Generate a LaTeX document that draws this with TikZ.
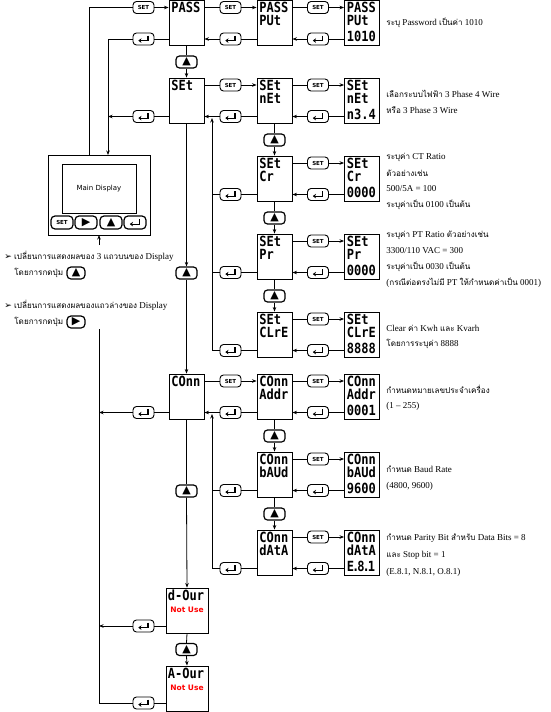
\documentclass[tikz,border=0pt]{standalone}
\usepackage{fontspec}
\setmainfont{Liberation Serif}
\newfontfamily\thaifont[Script=Thai,Scale=0.9]{Loma}
\newfontfamily\segfont[FakeStretch=0.86]{DejaVu Sans Mono}
\newfontfamily\symfont{DejaVu Sans}
\newfontfamily\uisans{DejaVu Sans}
\newcommand\tha[1]{{\thaifont #1}}
\usetikzlibrary{arrows.meta}
\newcommand\rowlink[4]{%
  \draw (#1.east |- #3) -- (#3.west);
  \draw[->] (#3.east) -- (#2.west |- #3);
  \draw (#2.west |- #4) -- (#4.east);
  \draw[->] (#4.west) -- (#1.east |- #4);}
\newcommand\subrow[4]{%
  \node[disp] (#1a) at (274.5,#2+22.5) {};
  \node[dtxt] (#1at) at ([shift={(2.5,2)}]#1a.north west) {#3};
  \node[disp] (#1b) at (362,#2+22.5) {};
  \node[dtxt] (#1bt) at ([shift={(2.5,2)}]#1b.north west) {#4};
  \node[setb] (#1s) at (318,#2+7) {SET};
  \node[entb] (#1e) at (318,#2+38.5) {};
  \rowlink{#1a}{#1b}{#1s}{#1e}}
\begin{document}
\begin{tikzpicture}[x=1pt,y=-1pt,line width=0.8pt,
  >={Stealth[length=4.5pt,width=3.5pt]},
  disp/.style={draw,line width=0.9pt,minimum width=35pt,minimum height=45pt,inner sep=0pt,fill=white},
  dwide/.style={disp,minimum width=42pt},
  dtxt/.style={anchor=north west,inner sep=0pt,align=left,font=\segfont\bfseries\fontsize{14}{13}\selectfont},
  btn/.style={draw,line width=0.9pt,rounded corners=3.5pt,minimum width=21pt,minimum height=12pt,inner sep=0pt,fill=white},
  setb/.style={btn,font=\uisans\bfseries\fontsize{5.5}{6}\selectfont},
  enticon/.style={path picture={\draw[sharp corners,line width=1.2pt,-{Stealth[length=3.2pt,width=4.6pt]}]
      ([shift={(4.5,-3.5)}]path picture bounding box.center) |- ([shift={(-5.2,1.6)}]path picture bounding box.center);}},
  entb/.style={btn,enticon},
  upb/.style={btn,line width=1.2pt,font=\symfont\fontsize{11}{11}\selectfont},
  mdb/.style={btn,line width=1.2pt,rounded corners=4pt,minimum width=22pt,minimum height=13pt},
  note/.style={anchor=west,inner sep=0pt,font=\fontsize{9}{10}\selectfont},
  nouse/.style={text=red,font=\uisans\bfseries\fontsize{7.5}{8}\selectfont,inner sep=0pt}]
\useasboundingbox (0,0) rectangle (550,712);

% ---------- main display ----------
\node[draw,line width=0.9pt,minimum width=102pt,minimum height=80pt,inner sep=0pt] (md) at (99,195) {};
\node[draw,line width=0.9pt,minimum width=74pt,minimum height=49pt,inner sep=0pt,font=\uisans\fontsize{7}{8}\selectfont] (mdscr) at (99,188.5) {Main Display};
\node[mdb,font=\uisans\bfseries\fontsize{5.5}{6}\selectfont] (mdb1) at (62,222.5) {SET};
\node[mdb,font=\symfont\fontsize{11}{11}\selectfont] (mdb2) at (86,222.5) {▶};
\node[mdb,font=\symfont\fontsize{11}{11}\selectfont] (mdb3) at (111,222.5) {▲};
\node[mdb,enticon] (mdb4) at (135,222.5) {};

% ---------- legend ----------
\node[note] (lg1) at (4,256) {{\symfont ➢} \tha{เปลี่ยนการแสดงผลของ} 3 \tha{แถวบนของ} Display};
\node[note] (lg2) at (14,273) {\tha{โดยการกดปุ่ม}};
\node[mdb,minimum width=18pt,minimum height=12pt,font=\symfont\fontsize{11}{11}\selectfont] (lgb1) at (76,273) {▲};
\node[note] (lg3) at (4,305) {{\symfont ➢} \tha{เปลี่ยนการแสดงผลของแถวล่างของ} Display};
\node[note] (lg4) at (14,322) {\tha{โดยการกดปุ่ม}};
\node[mdb,minimum width=18pt,minimum height=12pt,font=\symfont\fontsize{11}{11}\selectfont] (lgb2) at (76,322) {▶};

% ---------- column 1 ----------
\node[disp] (pass) at (186.5,23) {};
\node[dtxt] (passt) at ([shift={(2.5,2)}]pass.north west) {PASS};
\node[disp] (set) at (186.5,100.5) {};
\node[dtxt] (sett) at ([shift={(2.5,2)}]set.north west) {SEt};
\node[disp] (conn) at (186.5,396.5) {};
\node[dtxt] (connt) at ([shift={(2.5,2)}]conn.north west) {COnn};
\node[dwide] (dour) at (187,610.5) {};
\node[dtxt] (dourt) at ([shift={(2,2)}]dour.north west) {d-Our};
\node[nouse] (dnu) at (187,610) {Not Use};
\node[dwide] (aour) at (187,688.5) {};
\node[dtxt] (aourt) at ([shift={(2,2)}]aour.north west) {A-Our};
\node[nouse] (anu) at (187,688) {Not Use};

% ---------- sub rows ----------
\subrow{p}{0.5}{PASS\\PUt}{PASS\\PUt\\[3pt]1010}
\subrow{n}{78}{SEt\\nEt}{SEt\\nEt\\[3pt]n3.4}
\subrow{c}{156}{SEt\\Cr}{SEt\\Cr\\[3pt]0000}
\subrow{t}{234}{SEt\\Pr}{SEt\\Pr\\[3pt]0000}
\subrow{l}{312}{SEt\\CLrE}{SEt\\CLrE\\[3pt]8888}
\subrow{a}{374}{COnn\\Addr}{COnn\\Addr\\[3pt]0001}
\subrow{b}{452}{COnn\\bAUd}{COnn\\bAUd\\[3pt]9600}
\subrow{d}{530}{COnn\\dAtA}{COnn\\dAtA\\[3pt]E\kern-2pt.\kern-2pt8\kern-2pt.\kern-2pt1}

% ---------- buttons col1 -> col2 ----------
\node[setb] (p1s) at (230.5,7.5) {SET};
\node[entb] (p1e) at (230.5,39) {};
\node[setb] (n1s) at (230.5,85) {SET};
\node[entb] (n1e) at (230.5,116.5) {};
\node[setb] (a1s) at (230.5,381) {SET};
\node[entb] (a1e) at (230.5,412.5) {};
\node[entb] (c0e) at (230.5,194.5) {};
\node[entb] (t0e) at (230.5,272.5) {};
\node[entb] (l0e) at (230.5,350.5) {};
\node[entb] (b0e) at (230.5,490.5) {};
\node[entb] (d0e) at (230.5,568.5) {};
% left buttons
\node[setb] (s0L) at (143.5,7.5) {SET};
\node[entb] (e0L) at (143.5,39) {};
\node[entb] (e1L) at (143.5,116.5) {};
\node[entb] (e5L) at (143.5,412.5) {};
\node[entb] (e8L) at (143.5,626) {};
\node[entb] (e9L) at (143.5,703) {};
% up buttons
\node[upb] (u0) at (186.5,62) {▲};
\node[upb] (u1) at (186.5,273) {▲};
\node[upb] (u2) at (186.5,491) {▲};
\node[upb] (u3) at (186.5,649.5) {▲};
\node[upb] (un) at (274.5,140) {▲};
\node[upb] (uc) at (274.5,218) {▲};
\node[upb] (ut) at (274.5,296) {▲};
\node[upb] (ua) at (274.5,436) {▲};
\node[upb] (ub) at (274.5,514) {▲};

% coordinates
\coordinate (mdA) at (89,155);
\coordinate (mdB) at (108,155);
\coordinate (mdC) at (99,235);
\coordinate (mdD) at (99,245);
\coordinate (vl) at (99,329);
\coordinate (j1) at (212,118);
\coordinate (j2) at (212,414);

% ---------- connectors ----------
\rowlink{pass}{pa}{p1s}{p1e}
\rowlink{set}{na}{n1s}{n1e}
\rowlink{conn}{aa}{a1s}{a1e}

\draw (mdA) |- (s0L.west);
\draw[->] (s0L.east) -- (pass.west |- s0L);
\draw (pass.west |- e0L) -- (e0L.east);
\draw[->] (e0L.west) -| (mdB);
\draw (set.west |- e1L) -- (e1L.east);
\draw[->] (e1L.west) -- (e1L.west -| mdB);
\draw (conn.west |- e5L) -- (e5L.east);
\draw[->] (e5L.west) -- (e5L.west -| vl);
\draw (dour.west |- e8L) -- (e8L.east);
\draw[->] (e8L.west) -- (e8L.west -| vl);
\draw (aour.west |- e9L) -- (e9L.east);
\draw (e9L.west) -| (vl);
\draw[->] (mdD) -- (mdC);

% main column
\draw (pass.south) -- (u0.north);
\draw[->] (u0.south) -- (set.north);
\draw[->] (set.south) -- (u1.north);
\draw[->] (u1.south) -- (conn.north);
\draw (conn.south) -- (u2.north);
\draw[->] (u2.south) -- (dour.north);
\draw (dour.south) -- (u3.north);
\draw[->] (u3.south) -- (aour.north);

% sub columns
\draw (na.south) -- (un.north);
\draw[->] (un.south) -- (ca.north);
\draw (ca.south) -- (uc.north);
\draw[->] (uc.south) -- (ta.north);
\draw (ta.south) -- (ut.north);
\draw[->] (ut.south) -- (la.north);
\draw (aa.south) -- (ua.north);
\draw[->] (ua.south) -- (ba.north);
\draw (ba.south) -- (ub.north);
\draw[->] (ub.south) -- (da.north);

% return lines
\draw (ca.west |- c0e) -- (c0e.east);
\draw (c0e.west) -- (c0e.west -| j1);
\draw (ta.west |- t0e) -- (t0e.east);
\draw (t0e.west) -- (t0e.west -| j1);
\draw (la.west |- l0e) -- (l0e.east);
\draw[->] (l0e.west) -| (j1);
\draw (ba.west |- b0e) -- (b0e.east);
\draw (b0e.west) -- (b0e.west -| j2);
\draw (da.west |- d0e) -- (d0e.east);
\draw[->] (d0e.west) -| (j2);

% ---------- notes ----------
\node[note] (np1) at (386,23) {\tha{ระบุ} Password \tha{เป็นค่า} 1010};
\node[note] (nn1) at (386,94) {\tha{เลือกระบบไฟฟ้า} 3 Phase 4 Wire};
\node[note] (nn2) at (386,110) {\tha{หรือ} 3 Phase 3 Wire};
\node[note] (nc1) at (386,157) {\tha{ระบุค่า} CT Ratio};
\node[note] (nc2) at (386,173) {\tha{ตัวอย่างเช่น}};
\node[note] (nc3) at (386,189) {500/5A = 100};
\node[note] (nc4) at (386,205) {\tha{ระบุค่าเป็น} 0100 \tha{เป็นต้น}};
\node[note] (nt1) at (386,235) {\tha{ระบุค่า} PT Ratio \tha{ตัวอย่างเช่น}};
\node[note] (nt2) at (386,251) {3300/110 VAC = 300};
\node[note] (nt3) at (386,267) {\tha{ระบุค่าเป็น} 0030 \tha{เป็นต้น}};
\node[note] (nt4) at (386,283) {(\tha{กรณีต่อตรงไม่มี} PT \tha{ให้กำหนดค่าเป็น} 0001)};
\node[note] (nl1) at (386,328) {Clear \tha{ค่า} Kwh \tha{และ} Kvarh};
\node[note] (nl2) at (386,344) {\tha{โดยการระบุค่า} 8888};
\node[note] (na1) at (386,389) {\tha{กำหนดหมายเลขประจำเครื่อง}};
\node[note] (na2) at (386,406) {(1 – 255)};
\node[note] (nb1) at (386,469) {\tha{กำหนด} Baud Rate};
\node[note] (nb2) at (386,486) {(4800, 9600)};
\node[note] (nd1) at (386,538) {\tha{กำหนด} Parity Bit \tha{สำหรับ} Data Bits = 8};
\node[note] (nd2) at (386,555) {\tha{และ} Stop bit = 1};
\node[note] (nd3) at (386,572) {(E.8.1, N.8.1, O.8.1)};
\end{tikzpicture}
\end{document}
